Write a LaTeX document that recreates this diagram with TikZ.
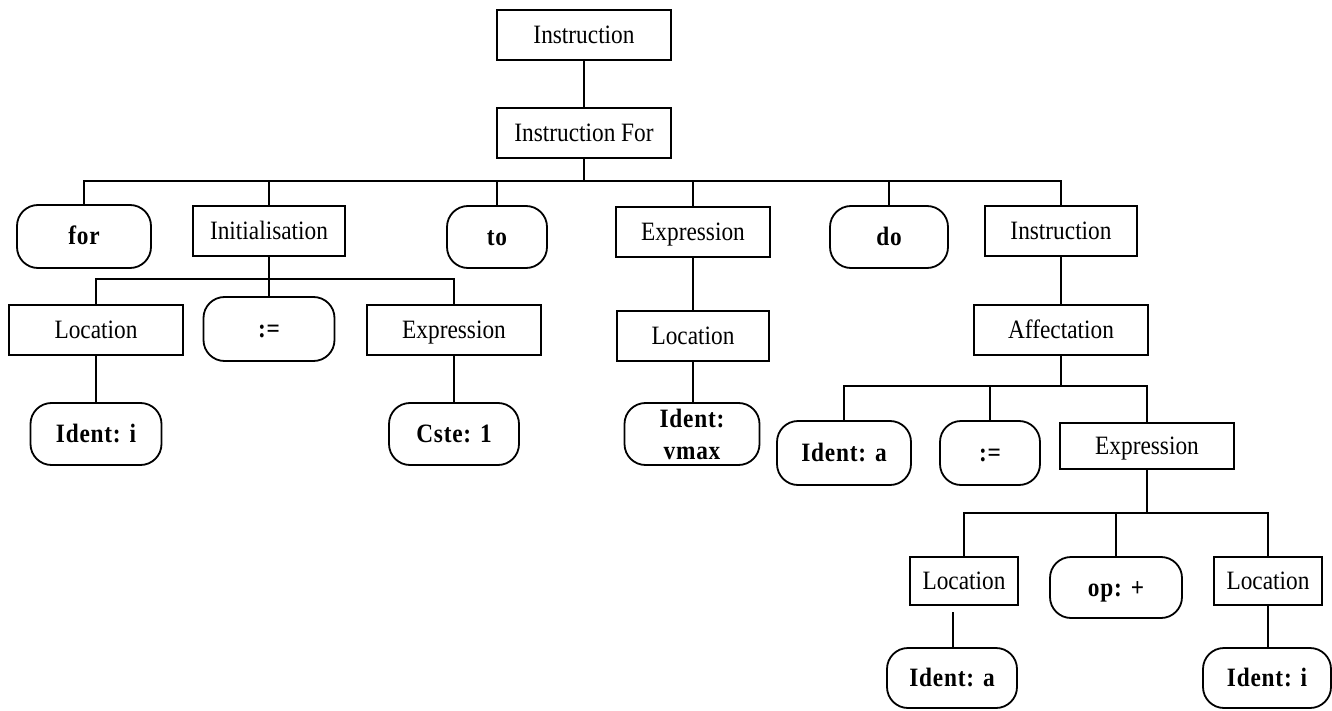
\documentclass[tikz,border=0pt]{standalone}
\usepackage{fontspec}
\setmainfont{Liberation Serif}[FakeStretch=0.88, BoldFeatures={LetterSpace=3}]
\begin{document}
\begin{tikzpicture}[x=1pt,y=-1pt,
  nt/.style={draw, line width=2pt, rectangle, inner sep=0pt, minimum height=50pt,
    text height=20pt, text depth=3pt, font=\fontsize{26.5}{24}\selectfont},
  tm/.style={draw, line width=1.8pt, rectangle, rounded corners=21pt, inner sep=0pt, minimum height=62pt,
    text height=20pt, text depth=3pt, font=\fontsize{26.5}{24}\selectfont\bfseries, align=center},
  link/.style={line width=2pt}]
\useasboundingbox (0,0) rectangle (1332,711);
% top
\node[nt, minimum width=174pt] (instr) at (584,35) {Instruction};
\node[nt, minimum width=174pt] (ifor) at (584,133) {Instruction For};
% level 1
\node[tm, minimum width=134pt, minimum height=63pt] (for) at (84,236.5) {for};
\node[nt, minimum width=152pt] (init) at (269,231) {Initialisation};
\node[tm, minimum width=100pt] (to) at (497,237) {to};
\node[nt, minimum width=154pt] (expr1) at (693,232) {Expression};
\node[tm, minimum width=118pt] (do) at (889,237) {do};
\node[nt, minimum width=152pt] (instr2) at (1061,231) {Instruction};
% left level 2
\node[nt, minimum width=174pt] (loc1) at (96,330) {Location};
\node[tm, minimum width=131pt, minimum height=64pt] (asg1) at (269,329) {:=};
\node[nt, minimum width=174pt] (expr2) at (454,330) {Expression};
\node[tm, minimum width=131pt] (idi1) at (96,434) {Ident: i};
\node[tm, minimum width=130pt] (cste) at (454,434) {Cste: 1};
% middle
\node[nt, minimum width=152pt] (loc2) at (693,336) {Location};
\node[tm, minimum width=135pt, text height=, text depth=] (vmax) at (692,434) {\raisebox{10pt}{Ident:}\\[-2pt]vmax};
% right
\node[nt, minimum width=174pt] (aff) at (1061,330) {Affectation};
\node[tm, minimum width=134pt, minimum height=64pt] (ida1) at (844,453) {Ident: a};
\node[tm, minimum width=100pt, minimum height=64pt] (asg2) at (990,453) {:=};
\node[nt, minimum width=174pt, minimum height=46pt] (expr3) at (1147,446) {Expression};
\node[nt, minimum width=108pt, minimum height=48pt] (loc3) at (964,581) {Location};
\node[tm, minimum width=132pt, minimum height=61pt] (op) at (1116,587.5) {op: +};
\node[nt, minimum width=108pt, minimum height=48pt] (loc4) at (1268,581) {Location};
\node[tm, minimum width=130pt, minimum height=60pt] (ida2) at (952,678) {Ident: a};
\node[tm, minimum width=128pt, minimum height=60pt] (idi2) at (1267,678) {Ident: i};
% bus levels
\coordinate (b1) at (0,181);
\coordinate (b2) at (0,279);
\coordinate (b3) at (0,386);
\coordinate (b4) at (0,513);
\coordinate (gap) at (953,612);
% connectors
\draw[link] (instr) -- (ifor);
\draw[link] (ifor.south) -- (ifor.south |- b1);
\draw[link] (for.north) |- (b1 -| instr2.north) -- (instr2.north);
\draw[link] (init.north) -- (init.north |- b1);
\draw[link] (to.north) -- (to.north |- b1);
\draw[link] (expr1.north) -- (expr1.north |- b1);
\draw[link] (do.north) -- (do.north |- b1);
% initialisation
\draw[link] (init.south) -- (init.south |- b2);
\draw[link] (loc1.north) |- (b2 -| expr2.north) -- (expr2.north);
\draw[link] (asg1.north) -- (asg1.north |- b2);
\draw[link] (loc1.south) -- (loc1.south |- idi1.north);
\draw[link] (expr2.south) -- (expr2.south |- cste.north);
% expression middle
\draw[link] (expr1.south) -- (expr1.south |- loc2.north);
\draw[link] (loc2.south) -- (loc2.south |- vmax.north);
% right
\draw[link] (instr2.south) -- (instr2.south |- aff.north);
\draw[link] (aff.south) -- (aff.south |- b3);
\draw[link] (ida1.north) |- (b3 -| expr3.north) -- (expr3.north);
\draw[link] (asg2.north) -- (asg2.north |- b3);
\draw[link] (expr3.south) -- (expr3.south |- b4);
\draw[link] (loc3.north) |- (b4 -| loc4.north) -- (loc4.north);
\draw[link] (op.north) -- (op.north |- b4);
\draw[link] (gap) -- (gap |- ida2.north);
\draw[link] (loc4.south) -- (loc4.south |- idi2.north);
\end{tikzpicture}
\end{document}
